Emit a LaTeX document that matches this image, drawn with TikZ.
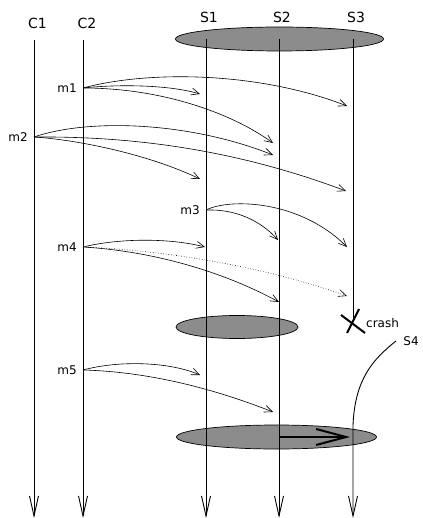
\documentclass[tikz,border=0pt]{standalone}
\usepackage{fontspec}
\setmainfont{DejaVu Sans}
\usetikzlibrary{arrows.meta}
\begin{document}
\begin{tikzpicture}[x=1pt,y=-1pt,
  lifeline/.style={line width=0.9pt,-{Straight Barb[length=20pt,width=9pt,line width=0.9pt]}},
  msg/.style={line width=0.6pt,-{Straight Barb[length=8pt,width=7pt,line width=0.6pt]}},
  grp/.style={fill=black!45,draw=black,line width=0.7pt},
  lbl/.style={font=\fontsize{12}{14}\selectfont,inner sep=0pt},
  head/.style={font=\fontsize{14}{16}\selectfont,inner sep=0pt}]
\useasboundingbox (0,0) rectangle (422,518);
\fill[white] (0,0) rectangle (422,518);
% group ellipses
\filldraw[grp] (279.5,39) ellipse [x radius=104,y radius=12];
\filldraw[grp] (237,327) ellipse [x radius=61,y radius=11.5];
\filldraw[grp] (276.5,437) ellipse [x radius=100,y radius=12];
% labels
\node[head] (lC1) at (37.5,23) {C1};
\node[head] (lC2) at (87,23) {C2};
\node[head] (lS1) at (209,17) {S1};
\node[head] (lS2) at (282,17) {S2};
\node[head] (lS3) at (356,17) {S3};
\node[lbl] (lS4) at (411,341) {S4};
\node[lbl,anchor=west] (lcrash) at (366,323) {crash};
% lifeline ends
\coordinate (C1t) at (34,40); \coordinate (C1b) at (34,518);
\coordinate (C2t) at (83,40); \coordinate (C2b) at (83,518);
\coordinate (S1t) at (206,39); \coordinate (S1b) at (206,518);
\coordinate (S2t) at (279,39); \coordinate (S2b) at (279,518);
\coordinate (S3t) at (353,39); \coordinate (S3e) at (353,322);
\coordinate (S4s) at (396,341); \coordinate (S4b) at (353,518);
\draw[lifeline] (C1t) -- (C1b);
\draw[lifeline] (C2t) -- (C2b);
\draw[lifeline] (S1t) -- (S1b);
\draw[lifeline] (S2t) -- (S2b);
\draw[line width=0.9pt] (S3t) -- (S3e);
\draw[lifeline] (S4s) .. controls (372,360) and (355,380) .. (353,425) -- (S4b);
% crash
\draw[line width=2pt] (341,315) -- (365,333);
\draw[line width=2pt] (347,333) -- (359,309);
% transfer arrow
\coordinate (T1) at (279,437); \coordinate (T2) at (350,437);
\draw[line width=2pt,-{Straight Barb[length=30pt,width=16pt,line width=2pt]}] (T1) -- (T2);
% message labels
\node[lbl,anchor=east] (lm1) at (77,88) {m1};
\node[lbl,anchor=east] (lm2) at (28,137) {m2};
\node[lbl,anchor=east] (lm3) at (200,210) {m3};
\node[lbl,anchor=east] (lm4) at (77,247) {m4};
\node[lbl,anchor=east] (lm5) at (77,370) {m5};
% message points
\coordinate (m1) at (83,88);
\coordinate (m2) at (34,137);
\coordinate (m3) at (206,210);
\coordinate (m4) at (83,247);
\coordinate (m5) at (83,370);
\coordinate (a11) at (200,94); \coordinate (a12) at (273,143); \coordinate (a13) at (347,106);
\coordinate (a21) at (200,179); \coordinate (a22) at (273,155); \coordinate (a23) at (346,191);
\coordinate (a32) at (278,240); \coordinate (a33) at (347,247);
\coordinate (a41) at (205,247); \coordinate (a42) at (279,302); \coordinate (a43) at (347,296);
\coordinate (a51) at (200,375); \coordinate (a52) at (273,412);
% messages
\draw[msg] (m1) .. controls (120,84) and (170,85) .. (a11);
\draw[msg] (m1) .. controls (160,88) and (230,112) .. (a12);
\draw[msg] (m1) .. controls (150,70) and (260,72) .. (a13);
\draw[msg] (m2) .. controls (90,118) and (190,122) .. (a22);
\draw[msg] (m2) .. controls (150,136) and (250,155) .. (a23);
\draw[msg] (m2) .. controls (80,140) and (150,155) .. (a21);
\draw[msg] (m3) .. controls (230,198) and (300,200) .. (a33);
\draw[msg] (m3) .. controls (235,209) and (260,220) .. (a32);
\draw[msg] (m4) .. controls (120,238) and (170,238) .. (a41);
\draw[msg] (m4) .. controls (150,251) and (220,270) .. (a42);
\draw[msg,dotted] (m4) .. controls (160,250) and (260,265) .. (a43);
\draw[msg] (m5) .. controls (120,360) and (170,362) .. (a51);
\draw[msg] (m5) .. controls (160,372) and (230,395) .. (a52);
\end{tikzpicture}
\end{document}
